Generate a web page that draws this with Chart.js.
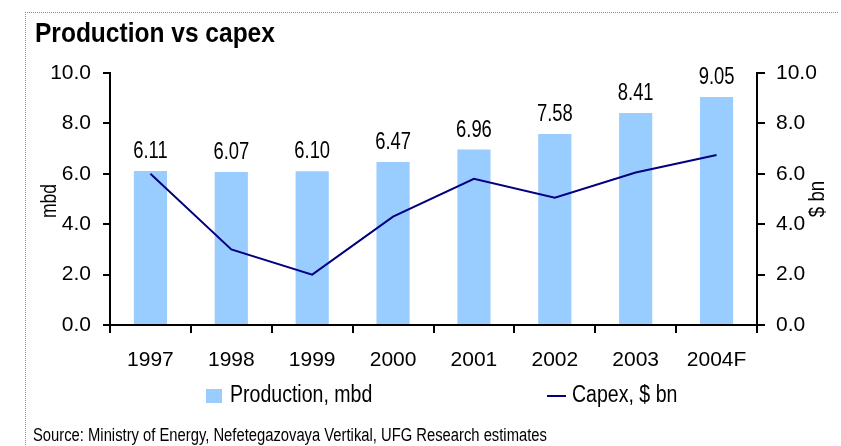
<!DOCTYPE html>
<html>
<head>
<meta charset="utf-8">
<script src="https://cdn.jsdelivr.net/npm/chart.js@4.4.1/dist/chart.umd.min.js"></script>
<style>
body { margin: 0; background: #fff; }
#wrap { position: relative; width: 841px; height: 446px; }
#frame { position: absolute; left: 25px; top: 12px; width: 812px; height: 434px; border-top: 1px dotted #888; border-left: 1px dotted #888; }
#title { position: absolute; left: 35px; top: 19px; font: bold 28px/28px 'Liberation Sans Narrow', 'Liberation Sans', sans-serif; color: #000; white-space: nowrap; transform: scaleX(0.876); transform-origin: left top; }
#source { position: absolute; left: 33px; top: 426px; font: 18px/18px 'Liberation Sans Narrow', 'Liberation Sans', sans-serif; color: #000; white-space: nowrap; transform: scaleX(0.821); transform-origin: left top; }
#chart { position: absolute; left: 0; top: 0; width: 841px; height: 446px; }
</style>
</head>
<body>
<div id="wrap">
  <div id="frame"></div>
  <div id="chart"><canvas id="myChart"></canvas></div>
  <div id="title">Production vs capex</div>
  <div id="source">Source: Ministry of Energy, Nefetegazovaya Vertikal, UFG Research estimates</div>
</div>
<script>
'use strict';

let years = ['1997', '1998', '1999', '2000', '2001', '2002', '2003', '2004F'];
let production = [6.11, 6.07, 6.10, 6.47, 6.96, 7.58, 8.41, 9.05];
let capex = [6.0, 3.0, 2.0, 4.3, 5.8, 5.05, 6.05, 6.75];
let seriesNames = ['Production, mbd', 'Capex, $ bn'];
let axisNames = ['mbd', '$ bn'];

let fontFamily = "'Liberation Sans Narrow', 'Liberation Sans', sans-serif";
Chart.defaults.font.family = fontFamily;
Chart.defaults.color = '#000';

let barColor = '#99CCFF';
let lineColor = '#000080';

// narrow-looking text: squeeze along the reading direction
function narrowText(ctx, text, x, y, size, squeeze, align, angle) {
    ctx.save();
    ctx.translate(x, y);
    if (angle) ctx.rotate(angle);
    ctx.scale(squeeze, 1);
    ctx.font = size + 'px ' + fontFamily;
    ctx.textAlign = align;
    ctx.fillText(text, 0, 0);
    ctx.restore();
}

// values over the bars
let barLabels = {
    id: 'barLabels',
    afterDatasetsDraw(chart) {
        let ctx = chart.ctx;
        let meta = chart.getDatasetMeta(0);
        ctx.save();
        ctx.fillStyle = '#000';
        ctx.textBaseline = 'alphabetic';
        meta.data.forEach(function (bar, i) {
            narrowText(ctx, production[i].toFixed(2), bar.x, bar.y - 13, 23, 0.8, 'center');
        });
        ctx.restore();
    }
};

// legend and axis titles
let extras = {
    id: 'extras',
    afterDraw(chart) {
        let ctx = chart.ctx;
        let area = chart.chartArea;
        let midY = (area.top + area.bottom) / 2;
        ctx.save();
        ctx.textBaseline = 'middle';

        ctx.fillStyle = barColor;
        ctx.fillRect(206, 389, 16, 14);
        ctx.fillStyle = '#000';
        narrowText(ctx, seriesNames[0], 230, 396, 23, 0.85, 'left');

        ctx.strokeStyle = lineColor;
        ctx.lineWidth = 2;
        ctx.beginPath();
        ctx.moveTo(547, 396);
        ctx.lineTo(566, 396);
        ctx.stroke();
        narrowText(ctx, seriesNames[1], 572, 396, 23, 0.85, 'left');

        narrowText(ctx, axisNames[0], 50, midY + 2, 22, 0.8, 'center', -Math.PI / 2);
        narrowText(ctx, axisNames[1], 818, midY, 22, 0.85, 'center', -Math.PI / 2);
        ctx.restore();
    }
};

let ctx = document.getElementById('myChart').getContext('2d');
let myChart = new Chart(ctx, {
    type: 'bar',
    data: {
        labels: years,
        datasets: [{
            label: seriesNames[0],
            data: production,
            backgroundColor: barColor,
            barPercentage: 0.41,
            categoryPercentage: 1,
            yAxisID: 'y',
            order: 2
        }, {
            type: 'line',
            label: seriesNames[1],
            data: capex,
            borderColor: lineColor,
            borderWidth: 2,
            pointRadius: 0,
            tension: 0,
            yAxisID: 'y1',
            order: 1
        }]
    },
    options: {
        responsive: true,
        maintainAspectRatio: false,
        animation: false,
        layout: {
            padding: { left: 26, right: 0, top: 73, bottom: 76 }
        },
        plugins: {
            legend: { display: false },
            tooltip: { enabled: false },
            title: { display: false }
        },
        scales: {
            x: {
                offset: true,
                grid: { display: true, drawOnChartArea: false, color: '#000', tickLength: 8, lineWidth: 2, offset: true },
                border: { display: true, color: '#000', width: 2 },
                ticks: { font: { size: 21 }, padding: 15, maxRotation: 0, autoSkip: false, color: '#000' },
                afterFit: function (scale) { scale.height = 45; }
            },
            y: {
                position: 'left',
                min: 0,
                max: 10,
                grid: { drawOnChartArea: false, color: '#000', tickLength: 7, lineWidth: 2 },
                border: { display: true, color: '#000', width: 2 },
                ticks: {
                    stepSize: 2,
                    font: { size: 21 },
                    padding: 12,
                    color: '#000',
                    callback: function (v) { return v.toFixed(1); }
                },
                afterFit: function (scale) { scale.width = 84; }
            },
            y1: {
                position: 'right',
                min: 0,
                max: 10,
                grid: { drawOnChartArea: false, color: '#000', tickLength: 8, lineWidth: 2 },
                border: { display: true, color: '#000', width: 2 },
                ticks: {
                    stepSize: 2,
                    font: { size: 21 },
                    padding: 11,
                    color: '#000',
                    callback: function (v) { return v.toFixed(1); }
                },
                afterFit: function (scale) { scale.width = 84; }
            }
        }
    },
    plugins: [barLabels, extras]
});
</script>
</body>
</html>
